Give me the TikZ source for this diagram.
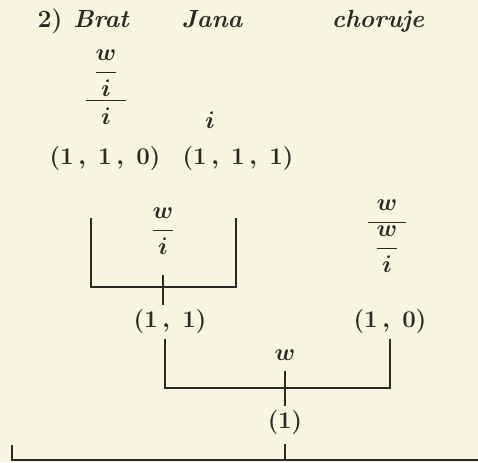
\documentclass[tikz,border=0pt]{standalone}
\usepackage{amsmath}
\usepackage{tikz}
\usetikzlibrary{positioning}
\definecolor{paper}{RGB}{248,245,224}
\definecolor{ink}{RGB}{45,42,38}
\newcommand{\tcomma}{\,{,}\;\,}

\begin{document}
\begin{tikzpicture}[
    x=0.5pt, y=-0.5pt,
    word/.style={font=\fontsize{12.4}{14}\selectfont\bfseries\itshape, text=ink, inner sep=0pt, anchor=base},
    lab/.style={font=\fontsize{11.6}{14}\selectfont\boldmath, text=ink, inner sep=1pt},
    frac/.style={font=\fontsize{12.4}{14}\selectfont\boldmath, text=ink, inner sep=1pt},
    tie/.style={draw=ink, line width=0.8pt},
]
\fill[paper] (0,0) rectangle (478,462);
\useasboundingbox (0,0) rectangle (478,462);

% sentence
\node[word] (nr) at (50,27) {\upshape 2)};
\node[word] (brat) at (101,27) {Brat};
\node[word] (jana) at (212,27) {Jana};
\node[word] (chor) at (378,27) {choruje};

% categories of the words
\node[frac] (fbrat) at (106,87) {$\dfrac{\dfrac{w}{i}\rule[-2.5pt]{0pt}{2.5pt}}{\makebox[20pt]{$i$}}$};
\node[frac] (fjana) at (210,120) {$i$};
\node[frac] (fchor) at (387,236) {$\dfrac{\makebox[19pt]{$w$}}{\dfrac{w}{i}}$};

% indices
\node[lab] (n110) at (105,158) {$(1\tcomma 1\tcomma 0)$};
\node[lab] (n111) at (238,158) {$(1\tcomma 1\tcomma 1)$};

% first step
\coordinate (ul) at (91,218);
\coordinate (ur) at (236,218);
\node[frac] (fwi) at (163,231) {$\dfrac{w}{i}$};
\node[lab] (n11) at (170,321) {$(1\tcomma 1)$};
\node[lab] (n10) at (390,321) {$(1\tcomma 0)$};
\draw[tie] (ul) -- ++(0,69) -| (ur);
\draw[tie, shorten <=9pt, shorten >=1pt] (fwi.south -| 163,0) -- (n11.north -| 163,0);

% second step
\coordinate (jn) at (285,388);
\node[frac] (fw) at (285,355) {$w$};
\node[lab] (n1) at (285,422) {$(1)$};
\draw[tie] ([xshift=-2.5pt,yshift=-2pt]n11.south) |- (jn) -| ([yshift=-2pt]n10.south);
\draw[tie, shorten <=4pt, shorten >=1pt] (fw) -- (n1);

% bottom rule
\coordinate (blt) at (12,445);
\coordinate (bl) at (12,460);
\coordinate (br) at (478,460);
\draw[tie, shorten <=4pt] (n1.south) -- (n1.south |- bl);
\draw[tie, line width=1.2pt] (blt) -- (bl) -- (br);
\end{tikzpicture}
\end{document}
